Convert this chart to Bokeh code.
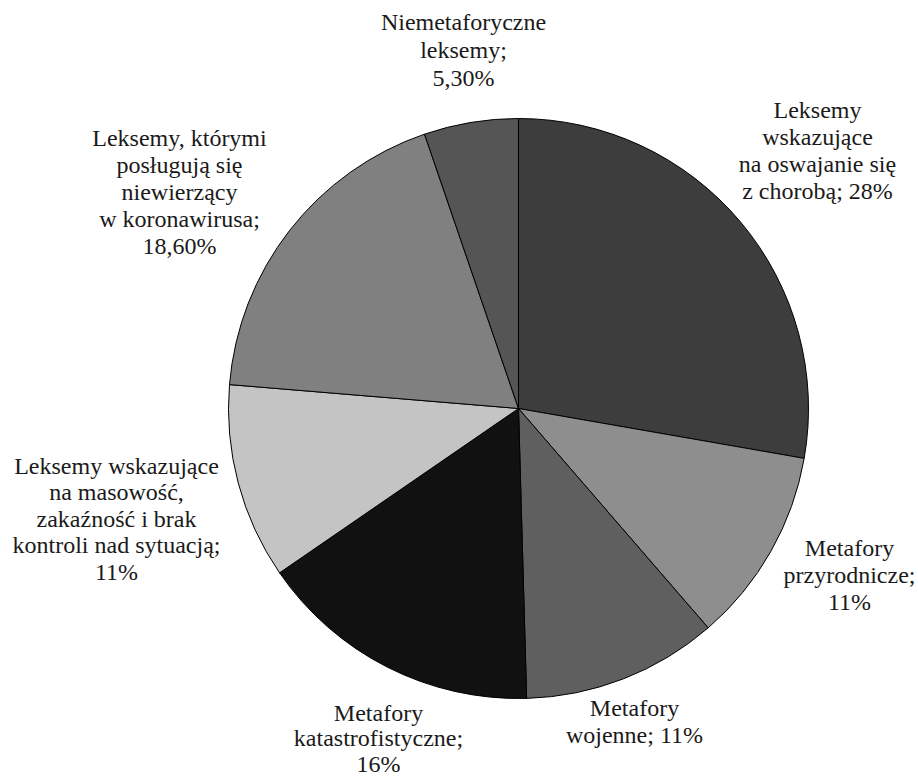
import math

from bokeh.embed import file_html
from bokeh.models import ColumnDataSource, Range1d, Label
from bokeh.plotting import figure
from bokeh.resources import INLINE

# Categories and their shares (percent), clockwise from 12 o'clock
categories = [
    "Leksemy\nwskazujące\nna oswajanie się\nz chorobą; 28%",
    "Metafory\nprzyrodnicze;\n11%",
    "Metafory\nwojenne; 11%",
    "Metafory\nkatastrofistyczne;\n16%",
    "Leksemy wskazujące\nna masowość,\nzakaźność i brak\nkontroli nad sytuacją;\n11%",
    "Leksemy, którymi\nposługują się\nniewierzący\nw koronawirusa;\n18,60%",
    "Niemetaforyczne\nleksemy;\n5,30%",
]
shares = [28, 11, 11, 16, 11, 18.6, 5.3]
colors = ["#3d3d3d", "#8e8e8e", "#5f5f5f", "#111111", "#c4c4c4", "#808080", "#555555"]

# Layout (page pixels, y measured downward): label centre x, first baseline y
W, H = 918, 778
CX, CY, R = 518, 408, 290
label_anchor = [(817, 117), (849, 555), (634, 715), (378, 720),
                (116, 473), (179, 145), (463, 29)]
line_step = [27, 27, 27, 25.5, 26.5, 27, 28]
DESCENT = 5  # baseline to bottom of the text box at 24px

total = sum(shares)
starts, ends = [], []
acc = 0.0
for s in shares:
    starts.append(math.pi / 2 - 2 * math.pi * acc / total)
    acc += s
    ends.append(math.pi / 2 - 2 * math.pi * acc / total)

p = figure(width=W, height=H, output_backend="svg", toolbar_location=None,
           x_range=Range1d(0, W), y_range=Range1d(0, H),
           min_border=0, outline_line_color=None)
p.axis.visible = False
p.grid.visible = False
p.background_fill_color = "white"
p.border_fill_color = "white"

src = ColumnDataSource(dict(start=starts, end=ends, color=colors))
p.wedge(x=CX, y=H - CY, radius=R, start_angle="start", end_angle="end",
        direction="clock", fill_color="color", line_color="black",
        line_width=1, source=src)

# One label per text line, so each line sits on its own baseline
for label, (ax, ay), step in zip(categories, label_anchor, line_step):
    for i, line in enumerate(label.split("\n")):
        p.add_layout(Label(x=ax, y=H - (ay + i * step + DESCENT),
                           x_units="screen", y_units="screen", text=line,
                           text_font="Times New Roman", text_font_size="24px",
                           text_color="#1a1a1a", text_align="center"))

open("out.html", "w").write(file_html(p, INLINE))
